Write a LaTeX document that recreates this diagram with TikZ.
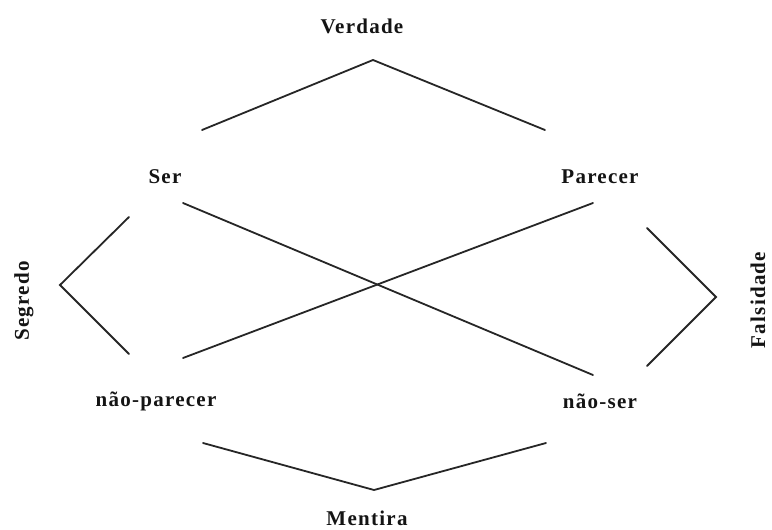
\documentclass[tikz,border=0pt]{standalone}
\usepackage{fontspec}
\setmainfont{Liberation Serif}[LetterSpace=6]
\begin{document}
\begin{tikzpicture}[x=1pt,y=-1pt,
  lbl/.style={font=\fontsize{21}{25}\selectfont\bfseries, text=black!92, inner sep=0pt},
  seg/.style={line width=1.8pt, draw=black!85, line cap=round}]
\useasboundingbox[fill=white] (0,0) rectangle (772,530);
% labels
\node[lbl] (verdade) at (362,26) {Verdade};
\node[lbl] (ser) at (165,177) {Ser};
\node[lbl] (parecer) at (600,177) {Parecer};
\node[lbl] (naoparecer) at (156,401) {não-parecer};
\node[lbl] (naoser) at (600,401) {não-ser};
\node[lbl] (mentira) at (367,518) {Mentira};
\node[lbl, rotate=90] (segredo) at (24,301) {Segredo};
\node[lbl, rotate=90] (falsidade) at (758,300) {Falsidade};
% endpoints
\coordinate (t1) at (202,130); \coordinate (t2) at (373,60); \coordinate (t3) at (545,130);
\coordinate (b1) at (203,443); \coordinate (b2) at (374,490); \coordinate (b3) at (546,443);
\coordinate (l1) at (129,217); \coordinate (l2) at (60,285); \coordinate (l3) at (129,354);
\coordinate (r1) at (647,228); \coordinate (r2) at (716,297); \coordinate (r3) at (647,366);
\coordinate (c1) at (183,203); \coordinate (c2) at (593,375);
\coordinate (d1) at (593,203); \coordinate (d2) at (183,358);
% lines
\draw[seg] (t1) -- (t2) -- (t3);
\draw[seg] (b1) -- (b2) -- (b3);
\draw[seg] (l1) -- (l2) -- (l3);
\draw[seg] (r1) -- (r2) -- (r3);
\draw[seg] (c1) -- (c2);
\draw[seg] (d1) -- (d2);
\end{tikzpicture}
\end{document}
